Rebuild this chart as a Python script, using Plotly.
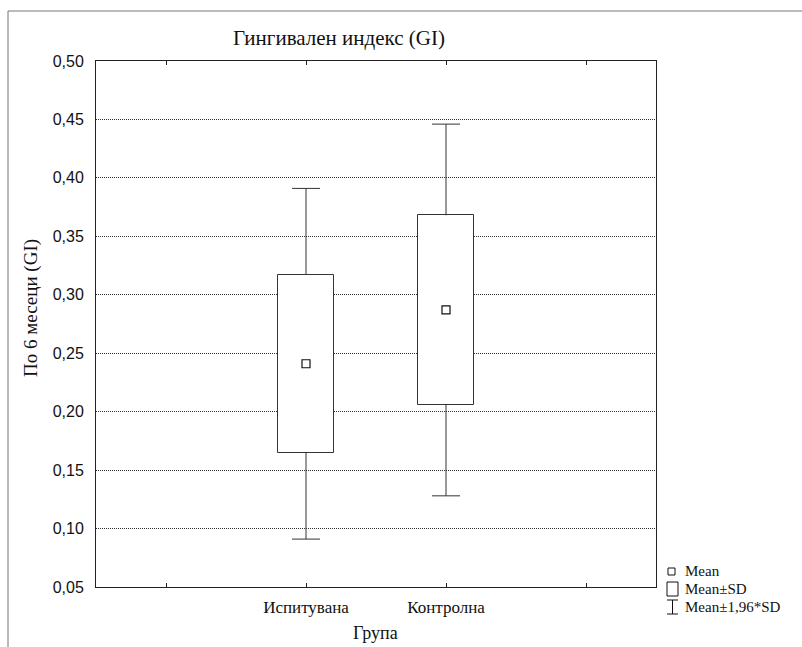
import plotly.graph_objects as go

# Group summary statistics (GI after 6 months)
groups = ["Испитувана", "Контролна"]
group_pos = [1, 2]
means = [0.241, 0.287]
sd_low = [0.165, 0.206]        # Mean - SD
sd_high = [0.317, 0.368]       # Mean + SD
ci_low = [0.091, 0.128]        # Mean - 1,96*SD
ci_high = [0.391, 0.446]       # Mean + 1,96*SD

y_ticks = [0.05, 0.10, 0.15, 0.20, 0.25, 0.30, 0.35, 0.40, 0.45, 0.50]
y_tick_text = ["0,05", "0,10", "0,15", "0,20", "0,25", "0,30", "0,35", "0,40", "0,45", "0,50"]
x_ticks = [0, 1, 2, 3]
x_tick_text = ["", "Испитувана", "Контролна", ""]

W, H = 802, 647
L, R, T, B = 96, 656, 61, 587   # plot area in pixels

def px(x):
    return (x - L) / (R - L)

def py(y):
    return (B - y) / (B - T)

SERIF = "Liberation Serif"
SANS = "Liberation Sans"
LINE = "#333333"

BOX_W = 0.4
CAP_HALF = 0.1

fig = go.Figure()

# Mean ± SD boxes
fig.add_trace(go.Bar(
    x=group_pos,
    base=sd_low,
    y=[h - l for h, l in zip(sd_high, sd_low)],
    width=BOX_W,
    marker=dict(color="white", line=dict(color=LINE, width=1)),
    hoverinfo="skip",
    showlegend=False,
))

# Whiskers: Mean ± 1,96*SD with caps
wx, wy = [], []
for xp, lo, hi, blo, bhi in zip(group_pos, ci_low, ci_high, sd_low, sd_high):
    wx += [xp, xp, None, xp - CAP_HALF, xp + CAP_HALF, None]
    wy += [bhi, hi, None, hi, hi, None]
    wx += [xp, xp, None, xp - CAP_HALF, xp + CAP_HALF, None]
    wy += [blo, lo, None, lo, lo, None]
fig.add_trace(go.Scatter(
    x=wx, y=wy, mode="lines",
    line=dict(color=LINE, width=1),
    hoverinfo="skip", showlegend=False,
))

# Means
fig.add_trace(go.Scatter(
    x=group_pos, y=means, mode="markers",
    marker=dict(symbol="square-open", size=8, color="#111111", line=dict(width=1.2)),
    showlegend=False,
))

fig.update_layout(
    width=W, height=H,
    margin=dict(l=L, r=W - R, t=T, b=H - B),
    paper_bgcolor="white", plot_bgcolor="white",
    bargap=0,
    showlegend=False,
)

fig.update_xaxes(
    range=[-0.5, 3.5],
    tickvals=x_ticks, ticktext=x_tick_text,
    ticks="inside", ticklen=4, tickcolor="#222222",
    showline=True, linecolor="#222222", linewidth=1,
    mirror="ticks", showgrid=False, zeroline=False,
    tickfont=dict(family=SERIF, size=17, color="#111111"),
    ticklabelstandoff=5,
)
fig.update_yaxes(
    range=[0.05, 0.50],
    tickvals=y_ticks, ticktext=y_tick_text,
    ticks="", showline=True, linecolor="#222222", linewidth=1,
    mirror=True, showgrid=True, gridcolor="#333333", gridwidth=1, griddash="1px,1px",
    zeroline=False,
    tickfont=dict(family=SANS, size=16, color="#111111"),
    ticklabelstandoff=8,
)

ann = []
ann.append(dict(text="Гингивален индекс (GI)", x=px(339), y=py(38), xref="paper", yref="paper",
                showarrow=False, font=dict(family=SERIF, size=21, color="#111111"),
                xanchor="center", yanchor="middle"))
ann.append(dict(text="По 6 месеци (GI)", x=px(31), y=py(308), xref="paper", yref="paper",
                showarrow=False, textangle=-90, font=dict(family=SERIF, size=19, color="#111111"),
                xanchor="center", yanchor="middle"))
ann.append(dict(text="Група", x=px(375), y=py(633), xref="paper", yref="paper",
                showarrow=False, font=dict(family=SERIF, size=18, color="#111111"),
                xanchor="center", yanchor="middle"))

# Legend entries
leg_text_x = 684
for label, yc in [("Mean", 571), ("Mean±SD", 589), ("Mean±1,96*SD", 607)]:
    ann.append(dict(text=label, x=px(leg_text_x), y=py(yc), xref="paper", yref="paper",
                    showarrow=False, font=dict(family=SERIF, size=15, color="#111111"),
                    xanchor="left", yanchor="middle", borderpad=0))

shapes = []
# outer frame lines
shapes.append(dict(type="line", xref="paper", yref="paper", x0=px(8), x1=px(802), y0=py(11), y1=py(11),
                   line=dict(color="#777777", width=1)))
shapes.append(dict(type="line", xref="paper", yref="paper", x0=px(8), x1=px(8), y0=py(11), y1=py(647),
                   line=dict(color="#777777", width=1)))
# legend symbols
shapes.append(dict(type="rect", xref="paper", yref="paper", x0=px(668), x1=px(675), y0=py(568), y1=py(575),
                   line=dict(color="#111111", width=1)))
shapes.append(dict(type="rect", xref="paper", yref="paper", x0=px(667), x1=px(678), y0=py(582), y1=py(596),
                   line=dict(color="#111111", width=1)))
shapes.append(dict(type="line", xref="paper", yref="paper", x0=px(672.5), x1=px(672.5), y0=py(600), y1=py(614),
                   line=dict(color="#111111", width=1)))
shapes.append(dict(type="line", xref="paper", yref="paper", x0=px(667), x1=px(678), y0=py(600), y1=py(600),
                   line=dict(color="#111111", width=1)))
shapes.append(dict(type="line", xref="paper", yref="paper", x0=px(667), x1=px(678), y0=py(614), y1=py(614),
                   line=dict(color="#111111", width=1)))

fig.update_layout(annotations=ann, shapes=shapes)

fig.write_html("out.html")
